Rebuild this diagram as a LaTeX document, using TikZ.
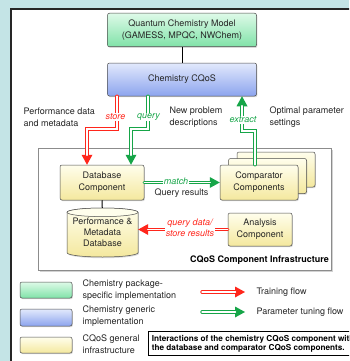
\documentclass[tikz,border=0pt]{standalone}
\usepackage{fontspec}
\setmainfont{TeX Gyre Heros}
\usetikzlibrary{arrows.meta,shadows}

\definecolor{bgcyan}{RGB}{196,228,230}
\definecolor{flowred}{RGB}{255,38,28}
\definecolor{flowgreen}{RGB}{22,165,72}
\definecolor{greentop}{RGB}{222,250,232}
\definecolor{greenbot}{RGB}{128,226,168}
\definecolor{bluetop}{RGB}{226,233,252}
\definecolor{bluebot}{RGB}{140,164,238}
\definecolor{yellowtop}{RGB}{255,254,236}
\definecolor{yellowbot}{RGB}{244,232,158}

\tikzset{
  softshadow/.style={drop shadow={opacity=0.3, shadow xshift=0.8pt, shadow yshift=-1.2pt}},
  box/.style={draw=black!70, line width=0.5pt, rounded corners=2pt, align=center, softshadow},
  greenbox/.style={box, top color=greentop, bottom color=greenbot},
  bluebox/.style={box, top color=bluetop, bottom color=bluebot},
  yellowbox/.style={box, top color=yellowtop, bottom color=yellowbot},
  flow/.style={draw=#1, line width=3.4pt, line cap=round,
    -{Triangle[length=10pt,width=11pt,line width=0pt]},
    postaction={draw=white, line width=1.4pt, shorten >=9.5pt, -}},
  flowlabel/.style={fill=white, inner sep=1pt, font=\fontsize{9}{11}\selectfont\itshape, text=#1},
}

\begin{document}
\begin{tikzpicture}[x=1pt, y=-1pt,
  every node/.style={font=\fontsize{9}{12}\selectfont, text=black!85}]
\useasboundingbox (0,0) rectangle (349,361);
\clip (0,0) rectangle (349,361);
\fill [bgcyan] (0,0) rectangle (349,361);
\fill [white] (11,9) rectangle (360,370);
\draw [black!85, line width=1.2pt] (11,370) -- (11,9) -- (360,9);

\node [greenbox, minimum width=149pt, minimum height=33.5pt] (qcm) at (182,30) {Quantum Chemistry Model\\(GAMESS, MPQC, NWChem)};
\node [bluebox, minimum width=149pt, minimum height=33pt] (cqos) at (182,79.5) {Chemistry CQoS};
\draw [black, line width=1pt] (qcm) -- (cqos);

\node [draw=black!45, fill=white, line width=0.6pt, minimum width=293pt, minimum height=122pt,
  drop shadow={opacity=0.35, shadow xshift=1.5pt, shadow yshift=-2pt}] (infra) at (184.5,209) {};
\node [anchor=base east, inner sep=0pt, font=\fontsize{9}{11}\selectfont\bfseries, text=black] (infralbl) at (329,262) {CQoS Component Infrastructure};

\node [yellowbox, minimum width=78pt, minimum height=35pt] (cmpback) at (276,169.5) {};
\node [yellowbox, minimum width=78pt, minimum height=35pt] (cmpmid) at (267.5,176) {};
\node [yellowbox, minimum width=78pt, minimum height=35pt] (cmp) at (259,182.5) {Comparator\\Components};
\node [yellowbox, minimum width=84pt, minimum height=35pt] (db) at (102,182.5) {Database\\Component};

\path [draw=black!70, line width=0.5pt, top color=yellowtop, bottom color=yellowbot, softshadow]
  (67,212.3) -- (67,252.7) arc [start angle=180, end angle=0, x radius=35.5, y radius=4.3]
  -- (138,212.3) arc [start angle=0, end angle=-180, x radius=35.5, y radius=4.3] -- cycle;
\draw [black!70, line width=0.5pt, fill=yellowtop] (102.5,212.3) ellipse [x radius=35.5, y radius=4.3];
\node [minimum width=71pt, minimum height=49pt, inner sep=0pt, align=center,
  font=\fontsize{9}{11}\selectfont] (perfdb) at (102.5,232.5) {Performance \&\\Metadata\\Database};
\node [yellowbox, minimum width=64pt, minimum height=33pt] (analysis) at (260,229.5) {Analysis\\Component};
\draw [black, line width=1pt] (db) -- (perfdb);

\draw [flow=flowred] (cqos.south -| 117,0) |- (87,129) -- (db.north -| 87,0);
\draw [flow=flowgreen] (cqos.south -| 148,0) |- (131,129) -- (db.north -| 131,0);
\draw [flow=flowgreen] (cmp.north -| 255,0) |- (242,131) -- (cqos.south -| 242,0);
\draw [flow=flowgreen] (db.east) -- (cmp.west);
\draw [flow=flowred] (analysis.west) -- (analysis.west -| perfdb.east);

\node [flowlabel=flowred] (storelbl) at (115.5,117) {store};
\node [flowlabel=flowgreen] (querylbl) at (148.5,117) {query};
\node [flowlabel=flowgreen] (extractlbl) at (243,120) {extract};
\node [flowlabel=flowgreen] (matchlbl) at (176,181.5) {match};
\node [flowlabel=flowred, align=center] (storeres) at (190,228) {query data/\\store results};
\node (queryres) at (181.5,193) {Query results};

\node [anchor=west, align=left] (perflbl) at (20,117) {Performance data\\and metadata};
\node [anchor=west, align=left] (newlbl) at (166,117) {New problem\\descriptions};
\node [anchor=west, align=left] (optlbl) at (266,117) {Optimal parameter\\settings};

\node [greenbox, minimum width=52pt, minimum height=16pt] (leggreen) at (46,290) {};
\node [bluebox, minimum width=52pt, minimum height=17pt] (legblue) at (46,317.5) {};
\node [yellowbox, minimum width=52pt, minimum height=16pt] (legyellow) at (46,345) {};
\node [anchor=west, align=left] (leggreenlbl) at (79,290) {Chemistry package-\\specific implementation};
\node [anchor=west, align=left] (legbluelbl) at (79,316.5) {Chemistry generic\\implementation};
\node [anchor=west, align=left] (legyellowlbl) at (79,344) {CQoS general\\infrastructure};

\coordinate (trainA) at (202,292);
\coordinate (trainB) at (245,292);
\coordinate (tuneA) at (202,312);
\coordinate (tuneB) at (245,312);
\draw [flow=flowred] (trainA) -- (trainB);
\draw [flow=flowgreen] (tuneA) -- (tuneB);
\node [anchor=west] (trainlbl) at (253,292) {Training flow};
\node [anchor=west] (tunelbl) at (253,312) {Parameter tuning flow};

\node [draw=black, line width=0.8pt, anchor=north west, align=left, inner sep=3.5pt,
  font=\fontsize{8.2}{9}\selectfont\bfseries, text=black] (caption) at (148,331) {Interactions of the chemistry CQoS component with\\the database and comparator CQoS components.};
\end{tikzpicture}
\end{document}
